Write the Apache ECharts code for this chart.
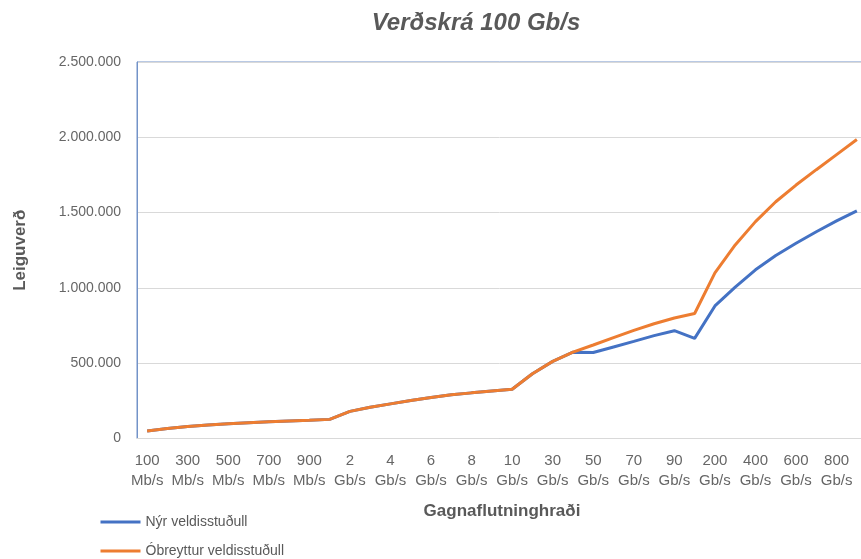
<!DOCTYPE html>
<html>
<head>
<meta charset="utf-8">
<script src="https://cdn.jsdelivr.net/npm/echarts@6/dist/echarts.min.js"></script>
<style>html,body{margin:0;padding:0;background:#fff}#c{width:861px;height:559px}</style>
</head>
<body>
<div id="c"></div>
<script>
var categories = ['100 Mb/s','200 Mb/s','300 Mb/s','400 Mb/s','500 Mb/s','600 Mb/s','700 Mb/s','800 Mb/s','900 Mb/s',
  '1 Gb/s','2 Gb/s','3 Gb/s','4 Gb/s','5 Gb/s','6 Gb/s','7 Gb/s','8 Gb/s','9 Gb/s','10 Gb/s',
  '20 Gb/s','30 Gb/s','40 Gb/s','50 Gb/s','60 Gb/s','70 Gb/s','80 Gb/s','90 Gb/s','100 Gb/s',
  '200 Gb/s','300 Gb/s','400 Gb/s','500 Gb/s','600 Gb/s','700 Gb/s','800 Gb/s','900 Gb/s'];
var nyrVeldisstudull = [50000,66000,79000,90000,98000,105000,111000,116000,121000,
  127000,180000,208000,230000,252000,272000,290000,303000,315000,327000,
  430000,512000,573000,571000,608000,645000,683000,716000,665000,
  880000,1005000,1120000,1215000,1296000,1373000,1445000,1512000];
var obreytturVeldisstudull = [50000,66000,79000,90000,98000,105000,111000,116000,121000,
  127000,180000,208000,230000,252000,272000,290000,303000,315000,327000,
  430000,512000,573000,621000,670000,718000,762000,800000,830000,
  1100000,1285000,1440000,1572000,1683000,1785000,1885000,1985000];
var yTicks = { min: 0, max: 2500000, interval: 500000 };

var font = 'Liberation Sans, Arial, sans-serif';
var chart = echarts.init(document.getElementById('c'), null, {renderer: 'canvas'});
chart.setOption({
  animation: false,
  color: ['#4472C4', '#ED7D31'],
  title: {
    text: 'Verðskrá 100 Gb/s',
    left: 471, top: 6, textAlign: 'center',
    textStyle: { fontFamily: font, fontSize: 24, fontWeight: 'bold', fontStyle: 'italic', color: '#595959' }
  },
  legend: {
    orient: 'vertical', left: 99, top: 515, padding: 0,
    itemWidth: 40, itemHeight: 14, itemGap: 15,
    itemStyle: { opacity: 0 },
    lineStyle: { width: 3 },
    textStyle: { fontFamily: font, fontSize: 14, color: '#595959' },
    data: ['Nýr veldisstuðull', 'Óbreyttur veldisstuðull']
  },
  grid: { left: 137, width: 730, top: 62, height: 376.5, outerBoundsMode: 'none', show: true, borderColor: '#7393c8', borderWidth: 1, containLabel: false },
  xAxis: {
    type: 'category', data: categories, boundaryGap: true,
    name: 'Gagnaflutninghraði', nameLocation: 'middle', nameGap: 64,
    nameTextStyle: { fontFamily: font, fontSize: 17, fontWeight: 'bold', color: '#595959' },
    axisLine: { show: true, lineStyle: { color: '#d9d9d9', width: 1 } },
    axisTick: { show: false },
    axisLabel: {
      interval: 1, margin: 12, fontFamily: font, fontSize: 15, lineHeight: 20, color: '#666666',
      formatter: function (v) { return v.replace(' ', '\n'); }
    },
    splitLine: { show: false }
  },
  yAxis: {
    type: 'value', min: yTicks.min, max: yTicks.max, interval: yTicks.interval,
    name: 'Leiguverð', nameLocation: 'middle', nameGap: 108,
    nameTextStyle: { fontFamily: font, fontSize: 17, fontWeight: 'bold', color: '#595959' },
    axisLine: { show: true, lineStyle: { color: '#7393c8', width: 1 } },
    axisTick: { show: false },
    axisLabel: {
      margin: 16, fontFamily: font, fontSize: 14, color: '#666666',
      formatter: function (v) { return String(v).replace(/\B(?=(\d{3})+(?!\d))/g, '.'); }
    },
    splitLine: { show: true, lineStyle: { color: '#d9d9d9', width: 1 } }
  },
  series: [
    { name: 'Nýr veldisstuðull', type: 'line', data: nyrVeldisstudull, symbol: 'none', lineStyle: { width: 3 } },
    { name: 'Óbreyttur veldisstuðull', type: 'line', data: obreytturVeldisstudull, symbol: 'none', lineStyle: { width: 3 } }
  ]
});
</script>
</body>
</html>
